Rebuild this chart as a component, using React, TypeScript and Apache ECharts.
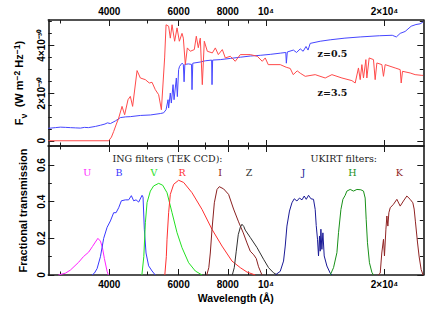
import React, { useEffect, useRef } from 'react';
import * as echarts from 'echarts';

// ---- axis ticks ----
const xMajorTicks = [4000, 6000, 8000, 10000, 20000];
const xMinorTicks = [3000, 5000, 7000, 9000];
const xTickLabels = ['4000', '6000', '8000', '10⁴', '2×10⁴'];

const fluxMajorTicks = [0, 2, 4];
const fluxMinorTicks = [0.5, 1, 1.5, 2.5, 3, 3.5, 4.5, 5];
const fluxTickLabels = ['0', '2×10⁻³⁰', '4×10⁻³⁰'];

const transMajorTicks = [0, 0.2, 0.4, 0.6];
const transMinorTicks = [0.1, 0.3, 0.5, 0.7];
const transTickLabels = ['0', '0.2', '0.4', '0.6'];

// ---- spectra (flux in units of 1e-30 W m^-2 Hz^-1) ----
const z05Wave = [2800, 2918, 3005, 3100, 3187, 3280, 3379, 3460, 3540, 3688, 3798, 3900, 3956, 4026, 4145, 4268, 4400, 4524, 4797, 5086, 5392, 5497, 5575, 5641, 5660, 5716, 5750, 5808, 5842, 5921, 5956, 6000, 6035, 6121, 6168, 6195, 6223, 6352, 6470, 6489, 6519, 6811, 7013, 7278, 7295, 7322, 7656, 8118, 8607, 9123, 9672, 10254, 10872, 11230, 11267, 11330, 11740, 11960, 12222, 12430, 12640, 12790, 12953, 13733, 14562, 15870, 17353, 19400, 20930, 21440, 21928, 22570, 23380, 24040, 24644, 25070];
const z05Flux = [0.52, 0.55, 0.57, 0.56, 0.55, 0.54, 0.53, 0.56, 0.55, 0.6, 0.65, 0.7, 0.75, 0.72, 0.83, 0.97, 1.0, 1.01, 1.06, 1.08, 1.14, 1.17, 1.3, 1.72, 1.37, 2.0, 1.58, 2.35, 1.72, 2.63, 1.85, 2.98, 3.12, 3.25, 3.2, 2.47, 3.2, 3.22, 3.2, 2.14, 3.25, 3.3, 3.35, 3.38, 2.35, 3.38, 3.4, 3.45, 3.5, 3.55, 3.58, 3.62, 3.67, 3.7, 3.25, 3.72, 3.8, 3.7, 3.85, 3.75, 3.95, 3.8, 4.08, 4.17, 4.23, 4.3, 4.35, 4.4, 4.42, 4.35, 4.5, 4.58, 4.8, 4.87, 4.9, 4.98];

const z35Wave = [2800, 3986, 4050, 4104, 4169, 4226, 4310, 4376, 4463, 4524, 4585, 4706, 4797, 4940, 5055, 5136, 5236, 5339, 5425, 5529, 5575, 5660, 5716, 5774, 5862, 5945, 6026, 6121, 6168, 6240, 6314, 6425, 6577, 6654, 6732, 6811, 6892, 6973, 7097, 7308, 7437, 7569, 7748, 7885, 8118, 8357, 8607, 9123, 9504, 9786, 9959, 10134, 10872, 11259, 11526, 11730, 12006, 12222, 12582, 13338, 14143, 14709, 15595, 16531, 16852, 17179, 17353, 17525, 17691, 17939, 18043, 18290, 18755, 18941, 19130, 19700, 19885, 20082, 21292, 21928, 22055, 22223, 23244, 23930, 24886, 25070];
const z35Flux = [0, 0, 0.15, 0.39, 0.7, 0.95, 1.44, 1.09, 1.72, 1.86, 1.44, 2.94, 2.63, 2.56, 2.42, 2.45, 2.14, 1.93, 1.3, 3.47, 4.86, 4.8, 4.3, 4.86, 4.17, 4.73, 4.17, 4.5, 4.3, 3.19, 3.89, 3.75, 3.82, 4.38, 3.9, 4.3, 2.35, 4.17, 3.75, 3.68, 3.89, 3.61, 3.82, 3.47, 3.54, 3.33, 3.61, 3.61, 3.54, 3.33, 3.47, 3.19, 3.19, 3.08, 3.03, 2.77, 2.93, 2.83, 2.7, 2.77, 2.63, 2.77, 2.63, 2.52, 2.42, 3.05, 2.56, 3.19, 2.63, 3.4, 2.63, 3.47, 3.4, 2.56, 3.26, 3.19, 2.7, 3.19, 3.05, 2.98, 2.42, 2.91, 2.84, 2.77, 2.74, 2.74];

// ---- filter transmission curves ----
const uWave = [2970, 3095, 3187, 3345, 3438, 3546, 3624, 3688, 3742, 3798, 3842, 3887, 3949, 3979];
const uTrans = [0, 0.01, 0.027, 0.07, 0.1, 0.125, 0.155, 0.18, 0.2, 0.185, 0.15, 0.09, 0.02, 0];

const bWave = [3617, 3666, 3725, 3798, 3871, 3949, 4026, 4104, 4162, 4226, 4293, 4395, 4480, 4551, 4613, 4678, 4750, 4845, 4873, 4910, 4959, 5035, 5136, 5236];
const bTrans = [0, 0.01, 0.035, 0.1, 0.2, 0.26, 0.295, 0.34, 0.34, 0.367, 0.405, 0.41, 0.41, 0.433, 0.405, 0.41, 0.398, 0.435, 0.425, 0.25, 0.12, 0.05, 0.022, 0];

const vWave = [4840, 4873, 4895, 4940, 4989, 5086, 5184, 5339, 5466, 5607, 5774, 5945, 6121, 6362, 6615, 6880];
const vTrans = [0, 0.06, 0.1, 0.285, 0.395, 0.458, 0.486, 0.5, 0.49, 0.449, 0.34, 0.231, 0.149, 0.067, 0.022, 0];

const rWave = [5535, 5584, 5607, 5660, 5716, 5829, 6000, 6180, 6489, 6880, 7295, 7733, 8198, 8607, 8950, 9394];
const rTrans = [0, 0.1, 0.195, 0.34, 0.44, 0.495, 0.517, 0.505, 0.449, 0.358, 0.249, 0.158, 0.076, 0.04, 0.016, 0];

const iWave = [7075, 7159, 7222, 7295, 7394, 7511, 7612, 7806, 8037, 8275, 8520, 8757, 8950, 9123, 9311, 9449, 9576, 9769];
const iTrans = [0, 0.04, 0.12, 0.25, 0.394, 0.467, 0.482, 0.47, 0.44, 0.36, 0.29, 0.23, 0.175, 0.13, 0.11, 0.09, 0.045, 0];

const zWave = [8213, 8308, 8406, 8505, 8607, 8691, 8783, 8860, 9123, 9489, 9861, 10153, 10454, 10683];
const zTrans = [0, 0.04, 0.13, 0.22, 0.26, 0.277, 0.265, 0.245, 0.205, 0.15, 0.086, 0.04, 0.012, 0];

const jWave = [10559, 10872, 11083, 11194, 11305, 11475, 11641, 11798, 11985, 12167, 12345, 12509, 12657, 12827, 13008, 13207, 13338, 13418, 13520, 13599, 13678, 13733, 13790, 13870, 13952, 14060, 14283, 14562, 14709];
const jTrans = [0, 0.02, 0.076, 0.158, 0.267, 0.349, 0.394, 0.416, 0.404, 0.42, 0.41, 0.431, 0.413, 0.435, 0.416, 0.413, 0.358, 0.27, 0.195, 0.104, 0.213, 0.13, 0.25, 0.14, 0.23, 0.104, 0.049, 0.01, 0];

const hWave = [14562, 14848, 15145, 15288, 15504, 15684, 15896, 16054, 16368, 16684, 17022, 17420, 17691, 17865, 17972, 18109, 18318, 18578, 18755];
const hTrans = [0, 0.04, 0.122, 0.231, 0.358, 0.413, 0.435, 0.458, 0.467, 0.458, 0.467, 0.465, 0.458, 0.42, 0.304, 0.176, 0.067, 0.015, 0];

const kWave = [19275, 19509, 19690, 19886, 20000, 20170, 20285, 20402, 20523, 20684, 21084, 21505, 21928, 22348, 22798, 23244, 23613, 23792, 23974, 24257, 24498, 24787, 25070];
const kTrans = [0, 0.01, 0.12, 0.195, 0.104, 0.25, 0.322, 0.267, 0.34, 0.367, 0.386, 0.413, 0.376, 0.404, 0.431, 0.413, 0.394, 0.36, 0.29, 0.18, 0.1, 0.03, 0];

const filterNames = ['U', 'B', 'V', 'R', 'I', 'Z', 'J', 'H', 'K'];
const filterColors = ['#ff22ff', '#3838ff', '#22e022', '#ff3030', '#8a2020', '#303030', '#1a1a96', '#189018', '#902424'];
const filterWaves = [uWave, bWave, vWave, rWave, iWave, zWave, jWave, hWave, kWave];
const filterTrans = [uTrans, bTrans, vTrans, rTrans, iTrans, zTrans, jTrans, hTrans, kTrans];

const LMIN = Math.log10(2800);
const LMAX = Math.log10(25100);
const FMIN = -0.22;
const FMAX = 5.06;
const TMIN = 0;
const TMAX = 0.704;

const LABEL_FONT = 'Liberation Sans, Arial, sans-serif';
const SERIF = 'DejaVu Serif, serif';
const AXIS_COLOR = '#1a1a1a';

const lg = (arr: number[]) => arr.map((v) => Math.log10(v));

function pick(ticks: number[], labels: string[], v: number) {
  const i = ticks.findIndex((t) => Math.abs(t - v) < 1e-6);
  return i >= 0 ? labels[i] : '';
}

function xAxis(gridIndex: number, position: 'top' | 'bottom', major: boolean, labels: boolean, name?: string) {
  return {
    type: 'value',
    gridIndex,
    position,
    min: LMIN,
    max: LMAX,
    name: name || '',
    nameLocation: 'middle',
    nameGap: 17,
    nameTextStyle: { fontFamily: LABEL_FONT, fontWeight: 'bold', fontSize: 10.5, color: '#000' },
    axisLine: { show: major, onZero: false, lineStyle: { color: AXIS_COLOR, width: 1.6 } },
    axisTick: {
      show: true,
      inside: true,
      length: major ? 6 : 3.5,
      customValues: lg(major ? xMajorTicks : xMinorTicks),
      lineStyle: { color: AXIS_COLOR, width: 1 },
    },
    axisLabel: {
      show: labels,
      customValues: lg(xMajorTicks),
      margin: 4,
      fontFamily: LABEL_FONT,
      fontWeight: 'bold',
      fontSize: 10,
      color: '#000',
      formatter: (v: number) => pick(lg(xMajorTicks), xTickLabels, v),
    },
    splitLine: { show: false },
  };
}

function yAxis(
  gridIndex: number,
  position: 'left' | 'right',
  major: boolean,
  labels: boolean,
  min: number,
  max: number,
  majorTicks: number[],
  minorTicks: number[],
  tickLabels: string[],
  name?: any,
  rich?: any,
) {
  return {
    type: 'value',
    gridIndex,
    position,
    min,
    max,
    name: name || '',
    nameLocation: 'middle',
    nameGap: 14,
    nameTextStyle: { fontFamily: LABEL_FONT, fontWeight: 'bold', fontSize: 11, color: '#000', rich },
    axisLine: { show: major, onZero: false, lineStyle: { color: AXIS_COLOR, width: 1.6 } },
    axisTick: {
      show: true,
      inside: true,
      length: major ? 6 : 3.5,
      customValues: major ? majorTicks : minorTicks,
      lineStyle: { color: AXIS_COLOR, width: 1 },
    },
    axisLabel: {
      show: labels,
      customValues: majorTicks,
      rotate: 90,
      margin: 2,
      fontFamily: LABEL_FONT,
      fontWeight: 'bold',
      fontSize: 10,
      color: '#000',
      formatter: (v: number) => pick(majorTicks, tickLabels, v),
    },
    splitLine: { show: false },
  };
}

function lineSeries(wave: number[], vals: number[], color: string, xi: number, yi: number) {
  return {
    type: 'line',
    xAxisIndex: xi,
    yAxisIndex: yi,
    data: wave.map((w, i) => [Math.log10(w), vals[i]]),
    showSymbol: false,
    symbol: 'none',
    silent: true,
    clip: true,
    lineStyle: { color, width: 1 },
  };
}

export default function App() {
  const ref = useRef<HTMLDivElement>(null);

  useEffect(() => {
    if (!ref.current) return;
    const chart = echarts.init(ref.current, undefined, { renderer: 'svg' });

    const base = { fontFamily: LABEL_FONT, fontWeight: 'bold', color: '#000' };
    const fluxRich = {
      a: { ...base, fontSize: 11, lineHeight: 14, verticalAlign: 'middle' },
      sub: { ...base, fontSize: 9, lineHeight: 14, verticalAlign: 'bottom', padding: [0, 0, -2, 0] },
      sup: { ...base, fontSize: 8.5, lineHeight: 14, verticalAlign: 'top' },
    };

    const grids = [
      { left: 48.3, top: 20, width: 375, height: 126 },
      { left: 48.3, top: 146, width: 375, height: 129 },
    ];

    const xAxes = [
      xAxis(0, 'bottom', true, false),
      xAxis(0, 'bottom', false, false),
      xAxis(0, 'top', true, true),
      xAxis(0, 'top', false, false),
      xAxis(1, 'bottom', true, true, 'Wavelength (Å)'),
      xAxis(1, 'bottom', false, false),
      xAxis(1, 'top', true, false),
      xAxis(1, 'top', false, false),
    ];

    const yAxes = [
      yAxis(0, 'left', true, true, FMIN, FMAX, fluxMajorTicks, fluxMinorTicks, fluxTickLabels,
        '{a|F}{sub|ν}{a|  (W m}{sup|−2}{a| Hz}{sup|−1}{a|)}', fluxRich),
      yAxis(0, 'left', false, false, FMIN, FMAX, fluxMajorTicks, fluxMinorTicks, fluxTickLabels),
      yAxis(0, 'right', true, false, FMIN, FMAX, fluxMajorTicks, fluxMinorTicks, fluxTickLabels),
      yAxis(0, 'right', false, false, FMIN, FMAX, fluxMajorTicks, fluxMinorTicks, fluxTickLabels),
      yAxis(1, 'left', true, true, TMIN, TMAX, transMajorTicks, transMinorTicks, transTickLabels, 'Fractional transmission'),
      yAxis(1, 'left', false, false, TMIN, TMAX, transMajorTicks, transMinorTicks, transTickLabels),
      yAxis(1, 'right', true, false, TMIN, TMAX, transMajorTicks, transMinorTicks, transTickLabels),
      yAxis(1, 'right', false, false, TMIN, TMAX, transMajorTicks, transMinorTicks, transTickLabels),
    ];

    const series: any[] = [
      lineSeries(z05Wave, z05Flux, '#4646ff', 0, 0),
      lineSeries(z35Wave, z35Flux, '#ff4a4a', 0, 0),
      ...filterWaves.map((w, i) => lineSeries(w, filterTrans[i], filterColors[i], 4, 4)),
    ];

    const labelX = [87.3, 119, 154, 182, 220, 249, 303.3, 352.3, 399.3];
    const txt = (text: string, x: number, y: number, fill: string, font: string) => ({
      type: 'text',
      x,
      y,
      silent: true,
      style: { text, fill, font, align: 'center', verticalAlign: 'middle' },
    });

    const graphic: any[] = [
      txt('ING filters (TEK CCD):', 167.5, 158.5, '#222', `9.5px ${SERIF}`),
      txt('UKIRT filters:', 343.7, 158.5, '#222', `9.5px ${SERIF}`),
      ...filterNames.map((n, i) => txt(n, labelX[i], 172, filterColors[i], `9.5px ${SERIF}`)),
      txt('z=0.5', 332.5, 53.5, '#111', `bold 9.5px ${SERIF}`),
      txt('z=3.5', 332.5, 92.7, '#111', `bold 9.5px ${SERIF}`),
    ];

    chart.setOption({
      animation: false,
      backgroundColor: '#fff',
      grid: grids,
      xAxis: xAxes,
      yAxis: yAxes,
      series,
      graphic,
    });

    return () => chart.dispose();
  }, []);

  return <div ref={ref} style={{ position: 'fixed', left: 0, top: 0, width: 447, height: 311 }} />;
}
